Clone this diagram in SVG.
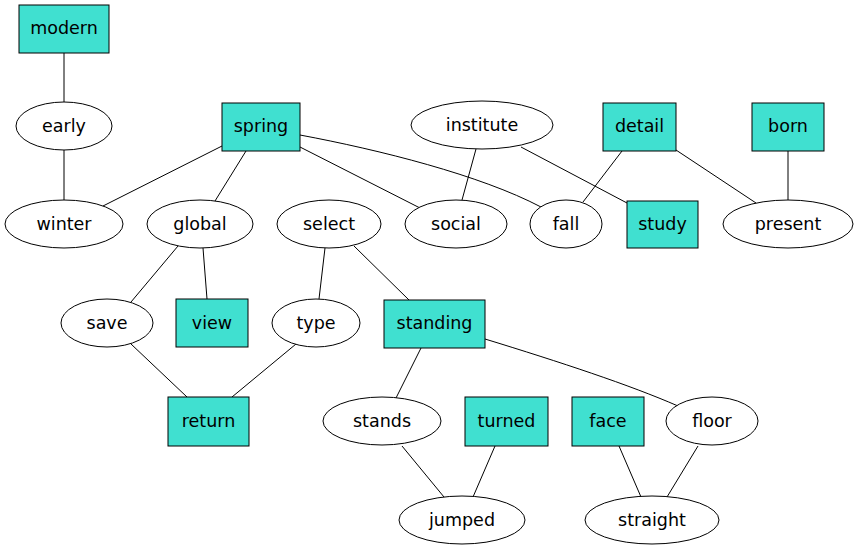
<svg xmlns="http://www.w3.org/2000/svg" width="859" height="552" viewBox="0 0 859 552">
<style>
.n rect{fill:#40e0d0;stroke:#000;stroke-width:1}
.n ellipse{fill:#fff;stroke:#000;stroke-width:1}
.n text{font-family:"DejaVu Sans",sans-serif;font-size:17.5px;text-anchor:middle;fill:#000}
#edges path{fill:none;stroke:#000;stroke-width:1}
</style>
<rect width="859" height="552" fill="#fff"/>
<g id="edges">
<path d="M64,53L64,102"/>
<path d="M64,150L64,200"/>
<path d="M222,146L103,206"/>
<path d="M246,151L215,201"/>
<path d="M300,147L420,208"/>
<path d="M300,135C380,150 480,175 541,207"/>
<path d="M476,149L462,200"/>
<path d="M521,147L627,203"/>
<path d="M622,151L583,202"/>
<path d="M676,150L756,203"/>
<path d="M788,151L788,200"/>
<path d="M178,246L131,302"/>
<path d="M203,248L207,299"/>
<path d="M325,248L319,299"/>
<path d="M354,246L409,300"/>
<path d="M131,344L187,397"/>
<path d="M296,344L232,397"/>
<path d="M421,348L396,398"/>
<path d="M485,339C560,362 630,385 678,406"/>
<path d="M402,446L444,497"/>
<path d="M495,446L473,497"/>
<path d="M619,446L641,497"/>
<path d="M698,446L667,497"/>
</g>
<g id="modern" class="n"><rect x="19" y="5" width="90" height="48"/><text x="64" y="34">modern</text></g>
<g id="early" class="n"><ellipse cx="64" cy="126" rx="48" ry="24"/><text x="64" y="132">early</text></g>
<g id="spring" class="n"><rect x="222" y="103" width="78" height="48"/><text x="261" y="132">spring</text></g>
<g id="institute" class="n"><ellipse cx="482" cy="125" rx="71" ry="24"/><text x="482" y="131">institute</text></g>
<g id="detail" class="n"><rect x="603" y="103" width="73" height="48"/><text x="639.5" y="132">detail</text></g>
<g id="born" class="n"><rect x="752" y="103" width="72" height="48"/><text x="788" y="132">born</text></g>
<g id="winter" class="n"><ellipse cx="64" cy="224" rx="59" ry="24"/><text x="64" y="230">winter</text></g>
<g id="global" class="n"><ellipse cx="200" cy="224" rx="53" ry="24"/><text x="200" y="230">global</text></g>
<g id="select" class="n"><ellipse cx="329" cy="224" rx="52" ry="24"/><text x="329" y="230">select</text></g>
<g id="social" class="n"><ellipse cx="456" cy="224" rx="51" ry="24"/><text x="456" y="230">social</text></g>
<g id="fall" class="n"><ellipse cx="566" cy="224" rx="36" ry="24"/><text x="566" y="230">fall</text></g>
<g id="study" class="n"><rect x="627" y="201" width="71" height="47"/><text x="662.5" y="230">study</text></g>
<g id="present" class="n"><ellipse cx="788" cy="224" rx="65" ry="24"/><text x="788" y="230">present</text></g>
<g id="save" class="n"><ellipse cx="107" cy="323" rx="46" ry="24"/><text x="107" y="329">save</text></g>
<g id="view" class="n"><rect x="176" y="299" width="72" height="48"/><text x="212" y="329">view</text></g>
<g id="type" class="n"><ellipse cx="316" cy="323" rx="44" ry="24"/><text x="316" y="329">type</text></g>
<g id="standing" class="n"><rect x="384" y="300" width="101" height="48"/><text x="434.5" y="329">standing</text></g>
<g id="return" class="n"><rect x="168" y="397" width="81" height="49"/><text x="208.5" y="427">return</text></g>
<g id="stands" class="n"><ellipse cx="382" cy="421" rx="59" ry="24"/><text x="382" y="427">stands</text></g>
<g id="turned" class="n"><rect x="465" y="397" width="83" height="49"/><text x="506.5" y="427">turned</text></g>
<g id="face" class="n"><rect x="572" y="397" width="72" height="49"/><text x="608" y="427">face</text></g>
<g id="floor" class="n"><ellipse cx="712" cy="421" rx="46" ry="24"/><text x="712" y="427">floor</text></g>
<g id="jumped" class="n"><ellipse cx="462" cy="520" rx="63" ry="24"/><text x="462" y="526">jumped</text></g>
<g id="straight" class="n"><ellipse cx="652" cy="520" rx="67" ry="24"/><text x="652" y="526">straight</text></g>
</svg>
